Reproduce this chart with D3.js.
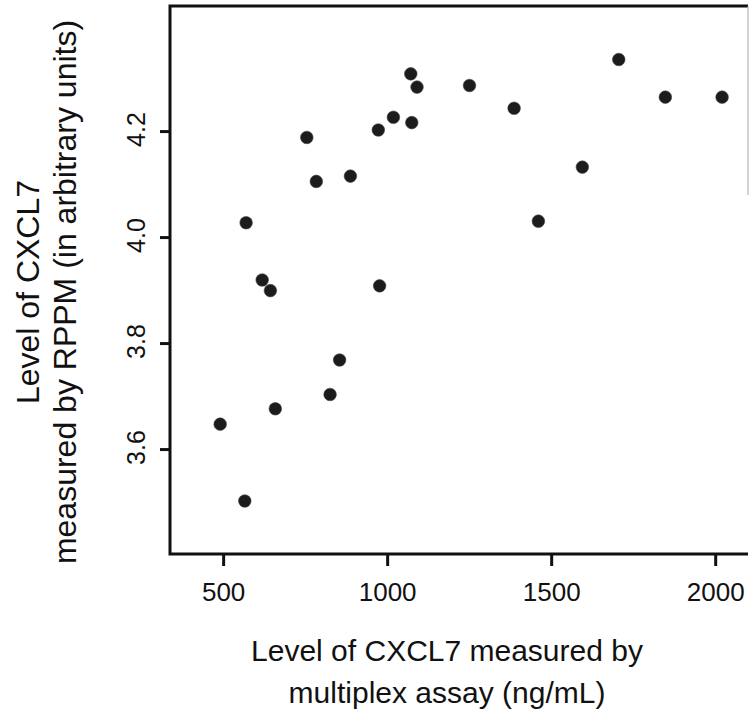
<!DOCTYPE html>
<html>
<head>
<meta charset="utf-8">
<script src="https://cdn.jsdelivr.net/npm/d3@7/dist/d3.min.js"></script>
<style>
  body { margin: 0; background: #fff; }
  svg { display: block; font-family: "Liberation Sans", Arial, Helvetica, sans-serif; }
</style>
</head>
<body>
<svg id="chart" width="750" height="714"></svg>
<script>
// CXCL7: multiplex assay (ng/mL) vs RPPM level (arbitrary units)
const multiplex = [1072, 1091, 1019, 1075, 973, 755, 784, 888, 570, 619, 644, 977,
                   1251, 1387, 1706, 1848, 2021, 1595, 1461, 855, 826, 659, 491, 566];
const rppm = [4.308, 4.283, 4.226, 4.216, 4.202, 4.188, 4.105, 4.115, 4.027, 3.919, 3.899, 3.908,
              4.286, 4.243, 4.335, 4.264, 4.264, 4.132, 4.030, 3.768, 3.703, 3.676, 3.647, 3.502];
const xTicks = [500, 1000, 1500, 2000];
const yTicks = [3.6, 3.8, 4.0, 4.2];

const svg = d3.select("#chart");
const plotLeft = 170, plotRight = 748, plotTop = 6, plotBottom = 554;

const x = d3.scaleLinear().domain([338, 2100]).range([plotLeft, plotRight]);
const y = d3.scaleLinear().domain([3.402, 4.436]).range([plotBottom, plotTop]);

// points first so the frame sits on top
svg.append("g")
  .selectAll("circle")
  .data(multiplex.map((d, i) => ({ x: d, y: rppm[i] })))
  .join("circle")
  .attr("cx", d => x(d.x))
  .attr("cy", d => y(d.y))
  .attr("r", 6.3)
  .attr("fill", "#1c1c1c")
  .attr("stroke", "#444")
  .attr("stroke-width", 0.6);

// frame: left, top and bottom are heavy, right edge is faint in the scan
svg.append("path")
  .attr("d", `M${plotRight},${plotTop}H${plotLeft}V${plotBottom}H${plotRight}`)
  .attr("fill", "none")
  .attr("stroke", "#111")
  .attr("stroke-width", 3);
svg.append("line")
  .attr("x1", plotRight).attr("x2", plotRight)
  .attr("y1", plotTop).attr("y2", 195)
  .attr("stroke", "#aaa")
  .attr("stroke-width", 1);

// x axis
const xAxis = svg.append("g")
  .attr("transform", `translate(0,${plotBottom})`)
  .call(d3.axisBottom(x).tickValues(xTicks).tickSize(12).tickPadding(17).tickFormat(d3.format("d")));
xAxis.select(".domain").remove();
xAxis.selectAll(".tick line").attr("stroke", "#111").attr("stroke-width", 3);
xAxis.selectAll(".tick text")
  .attr("font-size", 26)
  .attr("font-family", "Liberation Sans, Arial, sans-serif")
  .attr("fill", "#111");

// y axis, labels turned to read upward
const yAxis = svg.append("g")
  .attr("transform", `translate(${plotLeft},0)`)
  .call(d3.axisLeft(y).tickValues(yTicks).tickSize(10).tickFormat(d3.format(".1f")));
yAxis.select(".domain").remove();
yAxis.selectAll(".tick line").attr("stroke", "#111").attr("stroke-width", 3);
yAxis.selectAll(".tick text")
  .attr("font-size", 25)
  .attr("font-family", "Liberation Sans, Arial, sans-serif")
  .attr("fill", "#111")
  .attr("x", null).attr("dy", null)
  .attr("text-anchor", "middle")
  .attr("transform", "translate(-25,-2) rotate(-90)");

// axis titles
const xTitle = svg.append("text")
  .attr("text-anchor", "middle")
  .attr("font-size", 30)
  .attr("fill", "#111");
xTitle.append("tspan").attr("x", 447).attr("y", 661).text("Level of CXCL7 measured by");
xTitle.append("tspan").attr("x", 447).attr("y", 703).text("multiplex assay (ng/mL)");

const yTitle = svg.append("text")
  .attr("text-anchor", "middle")
  .attr("font-size", 32)
  .attr("fill", "#111")
  .attr("transform", "translate(0,292) rotate(-90)");
yTitle.append("tspan").attr("x", 0).attr("y", 39).text("Level of CXCL7");
yTitle.append("tspan").attr("x", 0).attr("y", 76).text("measured by RPPM (in arbitrary units)");
</script>
</body>
</html>
